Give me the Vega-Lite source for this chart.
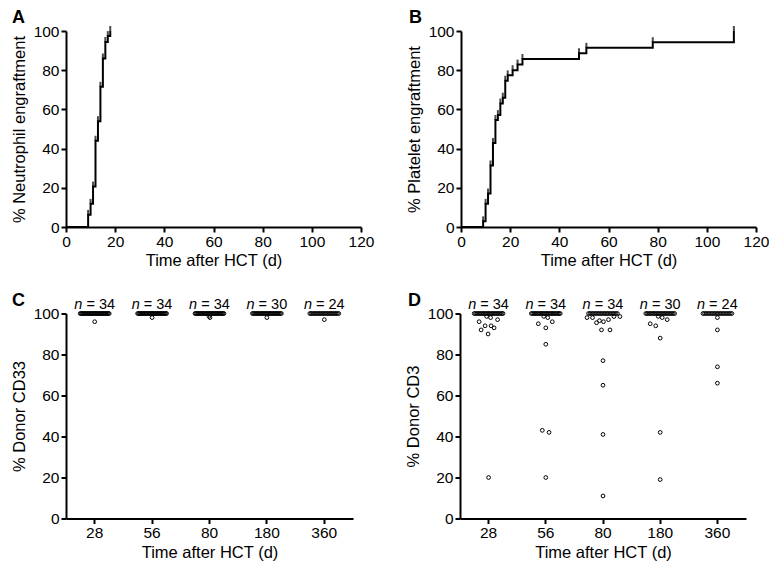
{
"$schema": "https://vega.github.io/schema/vega-lite/v6.json",
"background": "white",
"padding": {"left": 11, "top": 9, "right": 0, "bottom": 0},
"config": {
  "font": "Liberation Sans",
  "view": {"stroke": null},
  "axis": {"domainColor": "black", "domainWidth": 2, "tickColor": "black", "tickWidth": 2, "tickSize": 5, "labelColor": "black", "labelFont": "Liberation Sans", "labelFontSize": 15.5, "titleFont": "Liberation Sans", "titleFontSize": 16.5, "titleFontWeight": "normal", "titleColor": "black", "grid": false, "labelPadding": 2, "titlePadding": 3, "labelFlush": false, "labelOverlap": false},
  "axisY": {"titlePadding": 6},
  "title": {"anchor": "start", "frame": "group", "fontSize": 18, "fontWeight": "bold", "font": "Liberation Sans", "color": "black"}
},
"datasets": {
  "neut": [{"day":0,"pct":0},{"day":9,"pct":6.2},{"day":10,"pct":11.8},{"day":11,"pct":20.6},{"day":12,"pct":44},{"day":13,"pct":54},{"day":14,"pct":71.5},{"day":15,"pct":86},{"day":16,"pct":94.4},{"day":17,"pct":97.4},{"day":18,"pct":100}],
  "plt": [{"day":0,"pct":0},{"day":9,"pct":2.9},{"day":10,"pct":11.8},{"day":11,"pct":17.1},{"day":12,"pct":31.4},{"day":13,"pct":42.9},{"day":14,"pct":54.6},{"day":15,"pct":57.1},{"day":16,"pct":63},{"day":17,"pct":66},{"day":18,"pct":74.6},{"day":19,"pct":77.4},{"day":21,"pct":80},{"day":23,"pct":82.9},{"day":25,"pct":85.7},{"day":48,"pct":88.6},{"day":51,"pct":91.4},{"day":78,"pct":94.3},{"day":111,"pct":100}],
  "nlab": [{"d":"28","n":"= 34"},{"d":"56","n":"= 34"},{"d":"80","n":"= 34"},{"d":"180","n":"= 30"},{"d":"360","n":"= 24"}],
  "cd33": [
    {"d":"28","v":100},{"d":"28","v":100},{"d":"28","v":100},{"d":"28","v":100},{"d":"28","v":100},{"d":"28","v":100},{"d":"28","v":100},{"d":"28","v":100},{"d":"28","v":100},{"d":"28","v":100},
    {"d":"28","v":100},{"d":"28","v":100},{"d":"28","v":100},{"d":"28","v":100},{"d":"28","v":100},{"d":"28","v":100},{"d":"28","v":100},{"d":"28","v":100},{"d":"28","v":100},{"d":"28","v":100},
    {"d":"28","v":100},{"d":"28","v":100},{"d":"28","v":100},{"d":"28","v":100},{"d":"28","v":100},{"d":"28","v":100},{"d":"28","v":100},{"d":"28","v":100},{"d":"28","v":100},{"d":"28","v":100},
    {"d":"28","v":100},{"d":"28","v":100},{"d":"28","v":100},{"d":"28","v":96,"j":0},
    {"d":"56","v":100},{"d":"56","v":100},{"d":"56","v":100},{"d":"56","v":100},{"d":"56","v":100},{"d":"56","v":100},{"d":"56","v":100},{"d":"56","v":100},{"d":"56","v":100},{"d":"56","v":100},
    {"d":"56","v":100},{"d":"56","v":100},{"d":"56","v":100},{"d":"56","v":100},{"d":"56","v":100},{"d":"56","v":100},{"d":"56","v":100},{"d":"56","v":100},{"d":"56","v":100},{"d":"56","v":100},
    {"d":"56","v":100},{"d":"56","v":100},{"d":"56","v":100},{"d":"56","v":100},{"d":"56","v":100},{"d":"56","v":100},{"d":"56","v":100},{"d":"56","v":100},{"d":"56","v":100},{"d":"56","v":100},
    {"d":"56","v":100},{"d":"56","v":100},{"d":"56","v":100},{"d":"56","v":98,"j":0},
    {"d":"80","v":100},{"d":"80","v":100},{"d":"80","v":100},{"d":"80","v":100},{"d":"80","v":100},{"d":"80","v":100},{"d":"80","v":100},{"d":"80","v":100},{"d":"80","v":100},{"d":"80","v":100},
    {"d":"80","v":100},{"d":"80","v":100},{"d":"80","v":100},{"d":"80","v":100},{"d":"80","v":100},{"d":"80","v":100},{"d":"80","v":100},{"d":"80","v":100},{"d":"80","v":100},{"d":"80","v":100},
    {"d":"80","v":100},{"d":"80","v":100},{"d":"80","v":100},{"d":"80","v":100},{"d":"80","v":100},{"d":"80","v":100},{"d":"80","v":100},{"d":"80","v":100},{"d":"80","v":100},{"d":"80","v":100},
    {"d":"80","v":100},{"d":"80","v":100},{"d":"80","v":98.6,"j":-0.1},{"d":"80","v":98,"j":0.1},
    {"d":"180","v":100},{"d":"180","v":100},{"d":"180","v":100},{"d":"180","v":100},{"d":"180","v":100},{"d":"180","v":100},{"d":"180","v":100},{"d":"180","v":100},{"d":"180","v":100},{"d":"180","v":100},
    {"d":"180","v":100},{"d":"180","v":100},{"d":"180","v":100},{"d":"180","v":100},{"d":"180","v":100},{"d":"180","v":100},{"d":"180","v":100},{"d":"180","v":100},{"d":"180","v":100},{"d":"180","v":100},
    {"d":"180","v":100},{"d":"180","v":100},{"d":"180","v":100},{"d":"180","v":100},{"d":"180","v":100},{"d":"180","v":100},{"d":"180","v":100},{"d":"180","v":100},{"d":"180","v":100},{"d":"180","v":98,"j":0},
    {"d":"360","v":100},{"d":"360","v":100},{"d":"360","v":100},{"d":"360","v":100},{"d":"360","v":100},{"d":"360","v":100},{"d":"360","v":100},{"d":"360","v":100},{"d":"360","v":100},{"d":"360","v":100},
    {"d":"360","v":100},{"d":"360","v":100},{"d":"360","v":100},{"d":"360","v":100},{"d":"360","v":100},{"d":"360","v":100},{"d":"360","v":100},{"d":"360","v":100},{"d":"360","v":100},{"d":"360","v":100},
    {"d":"360","v":100},{"d":"360","v":100},{"d":"360","v":100},{"d":"360","v":97,"j":0}
  ],
  "cd3": [
    {"d":"28","v":100},{"d":"28","v":100},{"d":"28","v":100},{"d":"28","v":100},{"d":"28","v":100},{"d":"28","v":100},{"d":"28","v":100},{"d":"28","v":100},{"d":"28","v":100},{"d":"28","v":100},
    {"d":"28","v":100},{"d":"28","v":100},{"d":"28","v":100},{"d":"28","v":100},{"d":"28","v":100},{"d":"28","v":100},{"d":"28","v":100},{"d":"28","v":100},{"d":"28","v":100},{"d":"28","v":100},
    {"d":"28","v":100},{"d":"28","v":100},{"d":"28","v":100},{"d":"28","v":100},
    {"d":"28","v":98.6,"j":-0.4},{"d":"28","v":98,"j":0.4},{"d":"28","v":96,"j":-1.9},{"d":"28","v":97,"j":1.8},{"d":"28","v":94,"j":-0.7},{"d":"28","v":94,"j":0.5},{"d":"28","v":92,"j":-1.5},{"d":"28","v":93,"j":1.1},{"d":"28","v":90,"j":-0.1},{"d":"28","v":20,"j":0},
    {"d":"56","v":100},{"d":"56","v":100},{"d":"56","v":100},{"d":"56","v":100},{"d":"56","v":100},{"d":"56","v":100},{"d":"56","v":100},{"d":"56","v":100},{"d":"56","v":100},{"d":"56","v":100},
    {"d":"56","v":100},{"d":"56","v":100},{"d":"56","v":100},{"d":"56","v":100},{"d":"56","v":100},{"d":"56","v":100},{"d":"56","v":100},{"d":"56","v":100},{"d":"56","v":100},{"d":"56","v":100},
    {"d":"56","v":100},{"d":"56","v":100},{"d":"56","v":100},{"d":"56","v":100},{"d":"56","v":100},
    {"d":"56","v":98.6,"j":-0.4},{"d":"56","v":98,"j":0.4},{"d":"56","v":95,"j":-1.5},{"d":"56","v":93,"j":0},{"d":"56","v":96,"j":1.3},{"d":"56","v":85,"j":0},{"d":"56","v":43,"j":-0.7},{"d":"56","v":42,"j":0.65},{"d":"56","v":20,"j":0},
    {"d":"80","v":100},{"d":"80","v":100},{"d":"80","v":100},{"d":"80","v":100},{"d":"80","v":100},{"d":"80","v":100},{"d":"80","v":100},{"d":"80","v":100},{"d":"80","v":100},{"d":"80","v":100},
    {"d":"80","v":100},{"d":"80","v":100},{"d":"80","v":100},{"d":"80","v":100},{"d":"80","v":100},{"d":"80","v":100},{"d":"80","v":100},{"d":"80","v":100},{"d":"80","v":100},{"d":"80","v":100},
    {"d":"80","v":98,"j":-3.2},{"d":"80","v":98,"j":-2.1},{"d":"80","v":95.5,"j":-1.3},{"d":"80","v":96.5,"j":-0.7},{"d":"80","v":96,"j":0.1},{"d":"80","v":97,"j":1.1},{"d":"80","v":98.5,"j":2.2},{"d":"80","v":98.5,"j":3.4},{"d":"80","v":92,"j":-0.3},{"d":"80","v":92,"j":1.4},
    {"d":"80","v":77,"j":0},{"d":"80","v":65,"j":0},{"d":"80","v":41,"j":0},{"d":"80","v":11,"j":0},
    {"d":"180","v":100},{"d":"180","v":100},{"d":"180","v":100},{"d":"180","v":100},{"d":"180","v":100},{"d":"180","v":100},{"d":"180","v":100},{"d":"180","v":100},{"d":"180","v":100},{"d":"180","v":100},
    {"d":"180","v":100},{"d":"180","v":100},{"d":"180","v":100},{"d":"180","v":100},{"d":"180","v":100},{"d":"180","v":100},{"d":"180","v":100},{"d":"180","v":100},{"d":"180","v":100},{"d":"180","v":100},
    {"d":"180","v":100},{"d":"180","v":100},
    {"d":"180","v":98.6,"j":-0.4},{"d":"180","v":98,"j":0.4},{"d":"180","v":95,"j":-2},{"d":"180","v":94,"j":-0.9},{"d":"180","v":97,"j":1.4},{"d":"180","v":88,"j":0},{"d":"180","v":42,"j":0},{"d":"180","v":19,"j":0},
    {"d":"360","v":100},{"d":"360","v":100},{"d":"360","v":100},{"d":"360","v":100},{"d":"360","v":100},{"d":"360","v":100},{"d":"360","v":100},{"d":"360","v":100},{"d":"360","v":100},{"d":"360","v":100},
    {"d":"360","v":100},{"d":"360","v":100},{"d":"360","v":100},{"d":"360","v":100},{"d":"360","v":100},{"d":"360","v":100},{"d":"360","v":100},{"d":"360","v":100},{"d":"360","v":100},{"d":"360","v":100},
    {"d":"360","v":98,"j":0},{"d":"360","v":92,"j":0},{"d":"360","v":74,"j":0},{"d":"360","v":66,"j":0}
  ]
},
"spacing": 22.5,
"vconcat": [
  {
    "bounds": "flush",
    "spacing": 100,
    "hconcat": [
      {
        "width": 295, "height": 196,
        "title": {"text": "A", "dx": -54, "offset": -3},
        "data": {"name": "neut"},
        "encoding": {
          "x": {"field": "day", "type": "quantitative", "scale": {"domain": [0, 120]}, "axis": {"values": [0, 20, 40, 60, 80, 100, 120], "title": "Time after HCT (d)"}},
          "y": {"field": "pct", "type": "quantitative", "scale": {"domain": [0, 100]}, "axis": {"values": [0, 20, 40, 60, 80, 100], "title": "% Neutrophil engraftment"}}
        },
        "layer": [
          {"mark": {"type": "line", "interpolate": "step-after", "color": "black", "strokeWidth": 2}},
          {"transform": [{"filter": "datum.day > 0"}], "mark": {"type": "tick", "orient": "vertical", "size": 5, "thickness": 2, "yOffset": -2.5, "color": "black"}}
        ]
      },
      {
        "width": 295, "height": 196,
        "title": {"text": "B", "dx": -52, "offset": -3},
        "data": {"name": "plt"},
        "encoding": {
          "x": {"field": "day", "type": "quantitative", "scale": {"domain": [0, 120]}, "axis": {"values": [0, 20, 40, 60, 80, 100, 120], "title": "Time after HCT (d)"}},
          "y": {"field": "pct", "type": "quantitative", "scale": {"domain": [0, 100]}, "axis": {"values": [0, 20, 40, 60, 80, 100], "title": "% Platelet engraftment"}}
        },
        "layer": [
          {"mark": {"type": "line", "interpolate": "step-after", "color": "black", "strokeWidth": 2}},
          {"transform": [{"filter": "datum.day > 0"}], "mark": {"type": "tick", "orient": "vertical", "size": 5, "thickness": 2, "yOffset": -2.5, "color": "black"}}
        ]
      }
    ]
  },
  {
    "bounds": "flush",
    "spacing": 107,
    "hconcat": [
      {
        "width": 287, "height": 205,
        "title": {"text": "C", "dx": -54, "offset": -13},
        "layer": [
          {
            "data": {"name": "cd33"},
            "transform": [{"filter": "datum.v == 100"}, {"window": [{"op": "row_number", "as": "k"}], "groupby": ["d"]}, {"window": [{"op": "percent_rank", "as": "pr"}], "sort": [{"field": "k"}], "groupby": ["d"]}],
            "mark": {"type": "point", "shape": "circle", "filled": false, "stroke": "black", "strokeWidth": 1, "size": 14, "opacity": 1},
            "encoding": {
              "x": {"field": "d", "type": "ordinal", "sort": ["28", "56", "80", "180", "360"], "scale": {"paddingInner": 0, "paddingOuter": 0}, "axis": {"labelAngle": 0, "title": "Time after HCT (d)"}},
              "xOffset": {"field": "pr", "type": "quantitative", "scale": {"domain": [-0.49, 1.49]}},
              "y": {"field": "v", "type": "quantitative", "scale": {"domain": [0, 100]}, "axis": {"values": [0, 20, 40, 60, 80, 100], "title": "% Donor CD33"}}
            }
          },
          {
            "data": {"name": "cd33"},
            "transform": [{"filter": "datum.v < 100"}],
            "mark": {"type": "point", "shape": "circle", "filled": false, "stroke": "black", "strokeWidth": 1, "size": 14, "opacity": 1},
            "encoding": {
              "x": {"field": "d", "type": "ordinal", "sort": ["28", "56", "80", "180", "360"]},
              "xOffset": {"field": "j", "type": "quantitative", "scale": {"domain": [-5.73, 5.73]}},
              "y": {"field": "v", "type": "quantitative"}
            }
          },
          {
            "data": {"name": "nlab"},
            "mark": {"type": "text", "fontSize": 14.5, "fontStyle": "italic", "align": "right", "baseline": "alphabetic", "dx": -12.3, "dy": -5, "color": "black"},
            "encoding": {"x": {"field": "d", "type": "ordinal", "sort": ["28", "56", "80", "180", "360"]}, "y": {"datum": 100}, "text": {"value": "n"}}
          },
          {
            "data": {"name": "nlab"},
            "mark": {"type": "text", "fontSize": 14.5, "align": "left", "baseline": "alphabetic", "dx": -8.3, "dy": -5, "color": "black"},
            "encoding": {"x": {"field": "d", "type": "ordinal", "sort": ["28", "56", "80", "180", "360"]}, "y": {"datum": 100}, "text": {"field": "n"}}
          }
        ],
        "resolve": {"scale": {"xOffset": "independent"}}
      },
      {
        "width": 286, "height": 205,
        "title": {"text": "D", "dx": -52, "offset": -13},
        "layer": [
          {
            "data": {"name": "cd3"},
            "transform": [{"filter": "datum.v == 100"}, {"window": [{"op": "row_number", "as": "k"}], "groupby": ["d"]}, {"window": [{"op": "percent_rank", "as": "pr"}], "sort": [{"field": "k"}], "groupby": ["d"]}],
            "mark": {"type": "point", "shape": "circle", "filled": false, "stroke": "black", "strokeWidth": 1, "size": 14, "opacity": 1},
            "encoding": {
              "x": {"field": "d", "type": "ordinal", "sort": ["28", "56", "80", "180", "360"], "scale": {"paddingInner": 0, "paddingOuter": 0}, "axis": {"labelAngle": 0, "title": "Time after HCT (d)"}},
              "xOffset": {"field": "pr", "type": "quantitative", "scale": {"domain": [-0.49, 1.49]}},
              "y": {"field": "v", "type": "quantitative", "scale": {"domain": [0, 100]}, "axis": {"values": [0, 20, 40, 60, 80, 100], "title": "% Donor CD3"}}
            }
          },
          {
            "data": {"name": "cd3"},
            "transform": [{"filter": "datum.v < 100"}],
            "mark": {"type": "point", "shape": "circle", "filled": false, "stroke": "black", "strokeWidth": 1, "size": 14, "opacity": 1},
            "encoding": {
              "x": {"field": "d", "type": "ordinal", "sort": ["28", "56", "80", "180", "360"]},
              "xOffset": {"field": "j", "type": "quantitative", "scale": {"domain": [-5.73, 5.73]}},
              "y": {"field": "v", "type": "quantitative"}
            }
          },
          {
            "data": {"name": "nlab"},
            "mark": {"type": "text", "fontSize": 14.5, "fontStyle": "italic", "align": "right", "baseline": "alphabetic", "dx": -12.3, "dy": -5, "color": "black"},
            "encoding": {"x": {"field": "d", "type": "ordinal", "sort": ["28", "56", "80", "180", "360"]}, "y": {"datum": 100}, "text": {"value": "n"}}
          },
          {
            "data": {"name": "nlab"},
            "mark": {"type": "text", "fontSize": 14.5, "align": "left", "baseline": "alphabetic", "dx": -8.3, "dy": -5, "color": "black"},
            "encoding": {"x": {"field": "d", "type": "ordinal", "sort": ["28", "56", "80", "180", "360"]}, "y": {"datum": 100}, "text": {"field": "n"}}
          }
        ],
        "resolve": {"scale": {"xOffset": "independent"}}
      }
    ]
  }
]
}
